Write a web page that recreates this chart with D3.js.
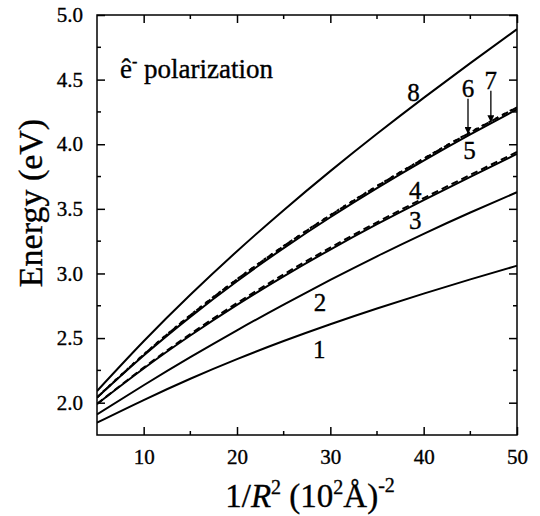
<!DOCTYPE html>
<html>
<head>
<meta charset="utf-8">
<script src="https://cdn.jsdelivr.net/npm/d3@7"></script>
<style>
  body { margin: 0; background: #fff; }
  text { font-family: "Liberation Serif", "Times New Roman", serif; fill: #000; stroke: #000; stroke-width: 0.35px; }
</style>
</head>
<body>
<div id="chart"></div>
<script>
// x values (1/R^2, in 10^2 A^-2)
var xs = [5, 10, 15, 20, 25, 30, 35, 40, 45, 50];

// energies (eV), one array per curve
var curve1 = [1.845, 2.02, 2.185, 2.337, 2.477, 2.607, 2.729, 2.844, 2.954, 3.06];
var curve2 = [1.91, 2.135, 2.352, 2.56, 2.759, 2.95, 3.133, 3.307, 3.472, 3.629];
var curve3 = [1.99, 2.265, 2.52, 2.757, 2.978, 3.185, 3.381, 3.568, 3.748, 3.925];
var curve4 = [1.99, 2.271, 2.531, 2.771, 2.993, 3.2, 3.396, 3.583, 3.763, 3.94];
var curve5 = [2.04, 2.365, 2.664, 2.94, 3.196, 3.435, 3.66, 3.873, 4.076, 4.27];
var curve6 = [2.04, 2.371, 2.676, 2.954, 3.211, 3.45, 3.675, 3.888, 4.091, 4.285];
var curve7 = [2.042, 2.373, 2.678, 2.956, 3.213, 3.452, 3.677, 3.89, 4.093, 4.287];
var curve8 = [2.09, 2.475, 2.835, 3.172, 3.49, 3.792, 4.081, 4.359, 4.628, 4.89];

var xTicks = [10, 20, 30, 40, 50];
var xMinor = [15, 25, 35, 45];
var yTicks = [2.0, 2.5, 3.0, 3.5, 4.0, 4.5, 5.0];
var yMinor = [2.25, 2.75, 3.25, 3.75, 4.25, 4.75];

// curve labels: [text, x, E]
var labels = [["1", 28.8, 2.349], ["2", 28.9, 2.71], ["3", 39.1, 3.343], ["4", 39.1, 3.576],
              ["5", 44.9, 3.886], ["6", 44.75, 4.367], ["7", 47.2, 4.43], ["8", 38.9, 4.338]];
// arrows for 6 and 7: [x, E from, E to]
var arrows = [[44.75, 4.351, 4.08], [47.2, 4.413, 4.17]];

var width = 540, height = 516;
var margin = {left: 97, right: 23, top: 15, bottom: 81};
var serif = "'Liberation Serif', 'Times New Roman', serif";

var svg = d3.select("#chart").append("svg")
    .attr("width", width)
    .attr("height", height)
    .attr("font-family", serif);

var xscale = d3.scaleLinear().domain([5, 50]).range([margin.left, width - margin.right]);
var yscale = d3.scaleLinear().domain([1.75, 5.0]).range([height - margin.bottom, margin.top]);

var series = [
    {v: curve1, dash: null},
    {v: curve2, dash: null},
    {v: curve3, dash: null},
    {v: curve4, dash: "7,4"},
    {v: curve5, dash: null},
    {v: curve6, dash: "7,4"},
    {v: curve7, dash: "3,5"},
    {v: curve8, dash: null}
];

var line = d3.line()
    .x(function(d, i) { return xscale(xs[i]); })
    .y(function(d) { return yscale(d); })
    .curve(d3.curveNatural);

svg.append("defs").append("clipPath").attr("id", "clip")
    .append("rect")
    .attr("x", margin.left).attr("y", margin.top)
    .attr("width", xscale(50) - xscale(5))
    .attr("height", yscale(1.75) - yscale(5.0));

svg.append("g").attr("clip-path", "url(#clip)")
    .selectAll("path")
    .data(series).enter()
    .append("path")
    .attr("d", function(d) { return line(d.v); })
    .attr("fill", "none")
    .attr("stroke", "#000")
    .attr("stroke-width", 2)
    .attr("stroke-dasharray", function(d) { return d.dash; });

// axes, ticks inward on all four sides
var bottom = d3.axisBottom(xscale).tickValues(xTicks).tickSize(-8).tickPadding(14).tickFormat(d3.format("d"));
var top_ = d3.axisTop(xscale).tickValues(xTicks).tickSize(-8).tickFormat("");
var left = d3.axisLeft(yscale).tickValues(yTicks).tickSize(-8).tickPadding(14).tickFormat(d3.format(".1f"));
var right = d3.axisRight(yscale).tickValues(yTicks).tickSize(-8).tickFormat("");

function styleAxis(g) {
    g.attr("font-family", serif).attr("font-size", 21);
    g.select(".domain").remove();
    g.selectAll("line").attr("stroke", "#000").attr("stroke-width", 1.5);
    g.selectAll("text").attr("fill", "#000")
        .style("font-family", serif).style("font-size", "21px");
}

svg.append("g").attr("transform", "translate(0," + yscale(1.75) + ")").call(bottom).call(styleAxis);
svg.append("g").attr("transform", "translate(0," + yscale(5.0) + ")").call(top_).call(styleAxis);
svg.append("g").attr("transform", "translate(" + xscale(5) + ",0)").call(left).call(styleAxis);
svg.append("g").attr("transform", "translate(" + xscale(50) + ",0)").call(right).call(styleAxis);

// minor ticks
var minorG = svg.append("g").attr("stroke", "#000").attr("stroke-width", 1.5);
xMinor.forEach(function(v) {
    minorG.append("line").attr("x1", xscale(v)).attr("x2", xscale(v))
        .attr("y1", yscale(1.75)).attr("y2", yscale(1.75) - 4);
    minorG.append("line").attr("x1", xscale(v)).attr("x2", xscale(v))
        .attr("y1", yscale(5.0)).attr("y2", yscale(5.0) + 4);
});
yMinor.forEach(function(v) {
    minorG.append("line").attr("x1", xscale(5)).attr("x2", xscale(5) + 4)
        .attr("y1", yscale(v)).attr("y2", yscale(v));
    minorG.append("line").attr("x1", xscale(50)).attr("x2", xscale(50) - 4)
        .attr("y1", yscale(v)).attr("y2", yscale(v));
});

// frame
svg.append("rect")
    .attr("x", xscale(5)).attr("y", yscale(5.0))
    .attr("width", xscale(50) - xscale(5))
    .attr("height", yscale(1.75) - yscale(5.0))
    .attr("fill", "none")
    .attr("stroke", "#000")
    .attr("stroke-width", 1.5);

// curve numbers
svg.selectAll(".lab")
    .data(labels).enter()
    .append("text")
    .attr("class", "lab")
    .attr("x", function(d) { return xscale(d[1]); })
    .attr("y", function(d) { return yscale(d[2]); })
    .attr("text-anchor", "middle")
    .style("font-family", serif)
    .style("font-size", "25px")
    .text(function(d) { return d[0]; });

svg.append("defs").append("marker")
    .attr("id", "head")
    .attr("viewBox", "0 0 10 10")
    .attr("refX", 10).attr("refY", 5)
    .attr("markerWidth", 7).attr("markerHeight", 7)
    .attr("markerUnits", "userSpaceOnUse")
    .attr("orient", "auto")
    .append("path").attr("d", "M0,0L10,5L0,10z").attr("fill", "#000");

svg.selectAll(".arrow")
    .data(arrows).enter()
    .append("line")
    .attr("class", "arrow")
    .attr("x1", function(d) { return xscale(d[0]); })
    .attr("x2", function(d) { return xscale(d[0]); })
    .attr("y1", function(d) { return yscale(d[1]); })
    .attr("y2", function(d) { return yscale(d[2]); })
    .attr("stroke", "#000")
    .attr("stroke-width", 1.3)
    .attr("marker-end", "url(#head)");

// annotation
var ann = svg.append("text")
    .attr("x", 120).attr("y", 78)
    .style("font-family", serif)
    .style("font-size", "27px");
ann.append("tspan").text("ê");
ann.append("tspan").attr("dy", -11).style("font-size", "16px").text("-");
ann.append("tspan").attr("dy", 11).text(" polarization");

// axis titles
svg.append("text")
    .attr("transform", "translate(42,203) rotate(-90)")
    .attr("text-anchor", "middle")
    .style("font-family", serif)
    .style("font-size", "34px")
    .text("Energy (eV)");

var xt = svg.append("text")
    .attr("x", 310).attr("y", 507)
    .attr("text-anchor", "middle")
    .style("font-family", serif)
    .style("font-size", "33px");
xt.append("tspan").text("1/");
xt.append("tspan").style("font-style", "italic").text("R");
xt.append("tspan").attr("dy", -13).style("font-size", "20px").text("2");
xt.append("tspan").attr("dy", 13).text(" (10");
xt.append("tspan").attr("dy", -13).style("font-size", "20px").text("2");
xt.append("tspan").attr("dy", 13).text("Å)");
xt.append("tspan").attr("dy", -15).style("font-size", "20px").text("-2");
</script>
</body>
</html>
